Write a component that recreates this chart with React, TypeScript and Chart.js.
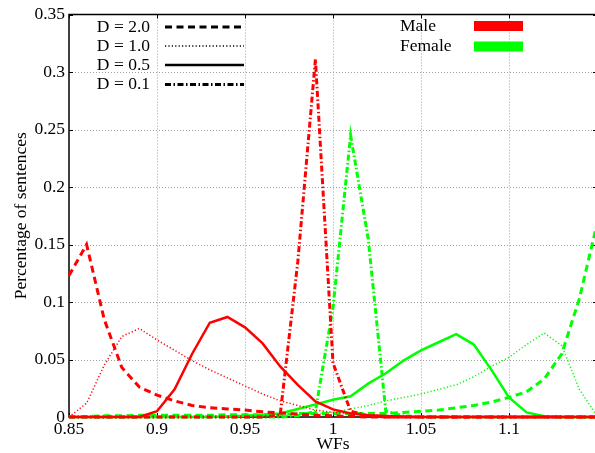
import React, { useEffect, useRef } from 'react';
import { Chart, registerables } from 'chart.js';

Chart.register(...registerables);

// WF values (x axis)
const wfs = [0.85, 0.86, 0.87, 0.88, 0.89, 0.9, 0.91, 0.92, 0.93, 0.94, 0.95, 0.96, 0.97, 0.98, 0.99, 1.0,
  1.01, 1.02, 1.03, 1.04, 1.05, 1.06, 1.07, 1.08, 1.09, 1.1, 1.11, 1.12, 1.13, 1.14, 1.15];

// Male series
const maleD20 = [0.123, 0.15, 0.085, 0.043, 0.026, 0.019, 0.014, 0.01, 0.008, 0.007, 0.006, 0.0045, 0.0035, 0.0025, 0.0015, 0.001,
  0.0005, 0, 0, 0, 0, 0, 0, 0, 0, 0, 0, 0, 0, 0, 0];
const maleD10 = [0, 0.012, 0.045, 0.07, 0.077, 0.067, 0.058, 0.049, 0.041, 0.034, 0.027, 0.02, 0.014, 0.01, 0.006, 0.004,
  0.003, 0.002, 0.001, 0.0005, 0, 0, 0, 0, 0, 0, 0, 0, 0, 0, 0];
const maleD05 = [0, 0, 0, 0, 0, 0.005, 0.024, 0.055, 0.082, 0.087, 0.078, 0.064, 0.044, 0.028, 0.0135, 0.0066,
  0.003, 0.0015, 0.0008, 0.0003, 0, 0, 0, 0, 0, 0, 0, 0, 0, 0, 0];
const maleD01 = [0, 0, 0, 0, 0, 0, 0, 0, 0, 0, 0, 0, 0.002, 0.135, 0.311, 0.047,
  0.005, 0.001, 0, 0, 0, 0, 0, 0, 0, 0, 0, 0, 0, 0, 0];

// Female series
const femaleD20 = [0, 0.0005, 0.001, 0.001, 0.0015, 0.0015, 0.0015, 0.0015, 0.0015, 0.002, 0.002, 0.002, 0.002, 0.003, 0.003, 0.003,
  0.003, 0.003, 0.003, 0.004, 0.005, 0.006, 0.008, 0.01, 0.013, 0.017, 0.022, 0.033, 0.055, 0.103, 0.168];
const femaleD10 = [0, 0, 0, 0, 0, 0.0005, 0.0005, 0.0005, 0.001, 0.001, 0.001, 0.001, 0.0015, 0.002, 0.003, 0.004,
  0.007, 0.01, 0.014, 0.017, 0.02, 0.024, 0.028, 0.035, 0.044, 0.052, 0.063, 0.073, 0.062, 0.024, 0.001];
const femaleD05 = [0, 0, 0, 0, 0, 0, 0, 0, 0, 0.0005, 0.001, 0.002, 0.003, 0.007, 0.011, 0.015,
  0.018, 0.029, 0.038, 0.049, 0.058, 0.065, 0.072, 0.063, 0.041, 0.017, 0.004, 0.0006, 0, 0, 0];
const femaleD01 = [0, 0, 0, 0, 0, 0, 0, 0, 0, 0, 0, 0, 0, 0.001, 0.005, 0.095,
  0.245, 0.155, 0.005, 0.001, 0, 0, 0, 0, 0, 0, 0, 0, 0, 0, 0];

// Legend / axis text
const dLabels = ['D = 2.0', 'D = 1.0', 'D = 0.5', 'D = 0.1'];
const genderLabels = ['Male', 'Female'];
const xTitle = 'WFs';
const yTitle = 'Percentage of sentences';

const FONT = '"Liberation Serif", "Times New Roman", serif';
const RED = '#ff0000';
const GREEN = '#00ff00';

// line styles per D (index matches dLabels)
const styles = [
  { dash: [7, 4.5], width: 3 },
  { dash: [1.2, 2.2], width: 1.5 },
  { dash: [], width: 2.5 },
  { dash: [6, 2.5, 1.5, 2.5], width: 3 },
];

const toPts = (vals: number[]) => vals.map((v, i) => ({ x: wfs[i], y: v }));

const fmt = (v: number) => String(Math.round(v * 100) / 100);

const framePlugin = {
  id: 'frame',
  beforeDatasetsDraw(chart: any) {
    const { ctx, chartArea: a, scales } = chart;
    const x = scales.x;
    const y = scales.y;
    ctx.save();
    // dotted grid
    ctx.strokeStyle = '#a0a0a0';
    ctx.lineWidth = 1;
    ctx.setLineDash([1, 2]);
    x.ticks.forEach((t: any) => {
      const px = Math.round(x.getPixelForValue(t.value)) + 0.5;
      if (px > a.left + 3 && px < a.right - 3) {
        ctx.beginPath();
        ctx.moveTo(px, a.top);
        ctx.lineTo(px, a.bottom);
        ctx.stroke();
      }
    });
    y.ticks.forEach((t: any) => {
      const py = Math.round(y.getPixelForValue(t.value)) + 0.5;
      if (py > a.top + 3 && py < a.bottom - 3) {
        ctx.beginPath();
        ctx.moveTo(a.left, py);
        ctx.lineTo(a.right, py);
        ctx.stroke();
      }
    });
    // border
    ctx.setLineDash([]);
    ctx.strokeStyle = '#000';
    ctx.lineWidth = 1.5;
    ctx.strokeRect(a.left, a.top, a.right - a.left, a.bottom - a.top);
    // inward tick marks on all sides
    ctx.lineWidth = 1;
    const tl = 4;
    x.ticks.forEach((t: any) => {
      const px = Math.round(x.getPixelForValue(t.value)) + 0.5;
      ctx.beginPath();
      ctx.moveTo(px, a.bottom);
      ctx.lineTo(px, a.bottom - tl);
      ctx.moveTo(px, a.top);
      ctx.lineTo(px, a.top + tl);
      ctx.stroke();
    });
    y.ticks.forEach((t: any) => {
      const py = Math.round(y.getPixelForValue(t.value)) + 0.5;
      ctx.beginPath();
      ctx.moveTo(a.left, py);
      ctx.lineTo(a.left + tl, py);
      ctx.moveTo(a.right, py);
      ctx.lineTo(a.right - tl, py);
      ctx.stroke();
    });
    ctx.restore();
  },
  afterDraw(chart: any) {
    const { ctx } = chart;
    ctx.save();
    ctx.font = `17.5px ${FONT}`;
    ctx.fillStyle = '#000';
    ctx.textBaseline = 'middle';
    // left key: line styles
    const rows = [27, 46, 65, 84.5];
    dLabels.forEach((lab, i) => {
      ctx.textAlign = 'right';
      ctx.fillText(lab, 150, rows[i]);
      const s = styles[i];
      ctx.strokeStyle = '#000';
      ctx.lineWidth = s.width;
      ctx.setLineDash(s.dash);
      ctx.beginPath();
      ctx.moveTo(165, rows[i]);
      ctx.lineTo(244, rows[i]);
      ctx.stroke();
    });
    ctx.setLineDash([]);
    // right key: colours
    const rows2 = [26, 46.5];
    const cols = [RED, GREEN];
    genderLabels.forEach((lab, i) => {
      ctx.textAlign = 'left';
      ctx.fillStyle = '#000';
      ctx.fillText(lab, 400, rows2[i]);
      ctx.fillStyle = cols[i];
      ctx.fillRect(474, rows2[i] - 5, 49, 10);
    });
    ctx.restore();
  },
};

export default function App() {
  const ref = useRef<HTMLCanvasElement | null>(null);

  useEffect(() => {
    if (!ref.current) return;
    const series = [
      { data: maleD20, color: RED, s: 0 },
      { data: maleD10, color: RED, s: 1 },
      { data: maleD05, color: RED, s: 2 },
      { data: maleD01, color: RED, s: 3 },
      { data: femaleD20, color: GREEN, s: 0 },
      { data: femaleD10, color: GREEN, s: 1 },
      { data: femaleD05, color: GREEN, s: 2 },
      { data: femaleD01, color: GREEN, s: 3 },
    ];
    const chart = new Chart(ref.current, {
      type: 'line',
      data: {
        datasets: series.map((d, i) => ({
          label: (i < 4 ? genderLabels[0] : genderLabels[1]) + ' ' + dLabels[d.s],
          data: toPts(d.data),
          borderColor: d.color,
          backgroundColor: d.color,
          borderWidth: styles[d.s].width,
          borderDash: styles[d.s].dash,
          pointRadius: 0,
          tension: 0,
          fill: false,
          clip: false as any,
        })),
      },
      options: {
        responsive: false,
        animation: false,
        events: [],
        layout: { padding: { top: 14, right: 3, left: 0, bottom: 0 } },
        plugins: { legend: { display: false }, tooltip: { enabled: false }, title: { display: false } },
        scales: {
          x: {
            type: 'linear',
            min: 0.85,
            max: 1.15,
            grid: { display: false, drawTicks: false },
            border: { display: false },
            ticks: {
              stepSize: 0.05,
              padding: 2,
              color: '#000',
              maxRotation: 0,
              autoSkip: false,
              font: { family: FONT, size: 17.5 },
              callback: (v: any) => (Number(v) > 1.12 ? '' : fmt(Number(v))),
            },
            title: {
              display: true,
              text: xTitle,
              color: '#000',
              font: { family: FONT, size: 17.5, lineHeight: 1 },
              padding: { top: 0, bottom: 0 },
            },
            afterFit: (s: any) => { s.height = 36; },
          },
          y: {
            min: 0,
            max: 0.35,
            grid: { display: false, drawTicks: false },
            border: { display: false },
            ticks: {
              stepSize: 0.05,
              padding: 4,
              color: '#000',
              font: { family: FONT, size: 17.5 },
              callback: (v: any) => fmt(Number(v)),
            },
            title: {
              display: true,
              text: yTitle,
              color: '#000',
              font: { family: FONT, size: 17.5, lineHeight: 1.2 },
              padding: { top: 10.5, bottom: 0 },
            },
            afterFit: (s: any) => { s.width = 69; },
          },
        },
      },
      plugins: [framePlugin],
    });
    return () => chart.destroy();
  }, []);

  return (
    <div style={{ position: 'fixed', left: 0, top: 0, width: 595, height: 453, overflow: 'hidden', background: '#fff' }}>
      <canvas ref={ref} width={600} height={453} style={{ display: 'block', width: 600, height: 453 }} />
    </div>
  );
}
